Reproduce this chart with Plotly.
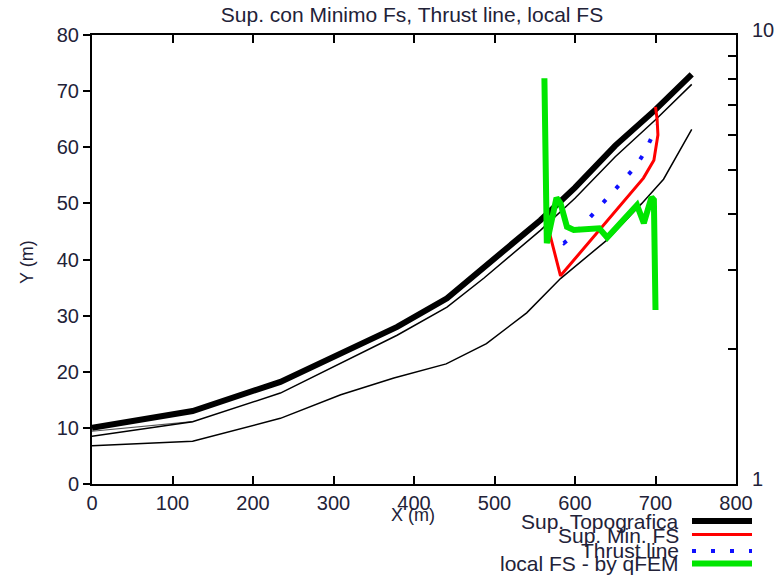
import plotly.graph_objects as go

# ---------------- data ----------------
topo_x = [0, 125, 234, 309, 379, 441, 487, 557, 600, 650, 700, 745]
topo_y = [10.0, 13.0, 18.2, 23.3, 28.0, 33.1, 38.5, 47.0, 52.8, 60.3, 66.7, 73.0]

layer1_x = [0, 125, 234, 309, 379, 441, 487, 557, 600, 650, 700, 745]
layer1_y = [8.5, 11.1, 16.2, 21.5, 26.5, 31.5, 36.7, 45.2, 50.9, 58.3, 64.9, 71.2]

layer2_x = [0, 125]
layer2_y = [9.4, 11.1]

bottom_x = [0, 125, 234, 309, 375, 440, 490, 540, 582, 640, 683, 710, 745]
bottom_y = [6.8, 7.6, 11.7, 15.9, 18.9, 21.4, 25.0, 30.5, 36.6, 43.5, 50.0, 54.3, 63.2]

minfs_x = [563, 582, 685, 698, 703, 702, 700]
minfs_y = [47.7, 37.1, 54.5, 57.7, 62.2, 65.0, 67.2]

thrust_x = [566, 586, 601, 617, 632, 646, 661, 675, 687, 696, 700]
thrust_y = [44.8, 42.9, 44.7, 47.3, 49.6, 51.9, 54.3, 56.5, 59.2, 62.0, 64.0]

localfs_x = [562, 565, 577, 582, 590, 598.5, 630, 640, 677, 685.5, 695, 698, 700]
localfs_fs = [8.01, 3.44, 4.34, 4.22, 3.74, 3.68, 3.71, 3.54, 4.18, 3.81, 4.35, 4.29, 2.44]

x_ticks = [0, 100, 200, 300, 400, 500, 600, 700, 800]
y_ticks = [0, 10, 20, 30, 40, 50, 60, 70, 80]
y2_ticks = [1, 2, 3, 4, 5, 6, 7, 8, 9, 10]
y2_ticktext = ["1", "", "", "", "", "", "", "", "", "10"]

title_text = "Sup. con Minimo Fs, Thrust line, local FS"
legend_labels = ["Sup. Topografica", "Sup. Min. FS", "Thrust line", "local FS - by qFEM"]

# ---------------- styles ----------------
FONT = "Liberation Sans"
TXT = "#222238"
DOT = "4px,15px"
GREEN = "#00e600"

fig = go.Figure()
fig.add_trace(go.Scatter(x=bottom_x, y=bottom_y, mode="lines",
                         line=dict(color="black", width=1.5), showlegend=False))
fig.add_trace(go.Scatter(x=layer2_x, y=layer2_y, mode="lines",
                         line=dict(color="#555", width=1.2), showlegend=False))
fig.add_trace(go.Scatter(x=layer1_x, y=layer1_y, mode="lines",
                         line=dict(color="black", width=1.5), showlegend=False))
fig.add_trace(go.Scatter(x=topo_x, y=topo_y, mode="lines",
                         line=dict(color="black", width=6), showlegend=False))
fig.add_trace(go.Scatter(x=minfs_x, y=minfs_y, mode="lines",
                         line=dict(color="#ff0000", width=3), showlegend=False))
fig.add_trace(go.Scatter(x=thrust_x, y=thrust_y, mode="lines",
                         line=dict(color="#1010ff", width=4, dash=DOT), showlegend=False))
fig.add_trace(go.Scatter(x=localfs_x, y=localfs_fs, mode="lines", yaxis="y2",
                         line=dict(color=GREEN, width=6), showlegend=False))

L, R, T, B = 92, 44, 35, 104
W, H = 780, 588
pw, ph = W - L - R, H - T - B

def px_x(p):
    return (p - L) / pw

def px_y(p):
    return (H - B - p) / ph

# manual legend (text left, sample right)
leg_text_y = [521, 535, 550, 563]
leg_line_y = [521, 534.5, 551, 563.5]
leg_styles = [dict(color="black", width=6),
              dict(color="#ff0000", width=3),
              dict(color="#1010ff", width=4, dash=DOT),
              dict(color=GREEN, width=6)]
annotations = []
shapes = []
for lab, ty, ly, st in zip(legend_labels, leg_text_y, leg_line_y, leg_styles):
    annotations.append(dict(text=lab, xref="paper", yref="paper", x=px_x(681), y=px_y(ty),
                            xanchor="right", yanchor="middle", showarrow=False,
                            font=dict(family=FONT, size=21, color=TXT)))
    shapes.append(dict(type="line", xref="paper", yref="paper",
                       x0=px_x(692), x1=px_x(752), y0=px_y(ly), y1=px_y(ly), line=st))

annotations.append(dict(text="X (m)", xref="paper", yref="paper", x=px_x(413), y=px_y(515),
                        xanchor="center", yanchor="middle", showarrow=False,
                        font=dict(family=FONT, size=18, color=TXT)))
annotations.append(dict(text="Y (m)", xref="paper", yref="paper", x=px_x(27), y=px_y(262),
                        xanchor="center", yanchor="middle", showarrow=False, textangle=-90,
                        font=dict(family=FONT, size=18, color=TXT)))

fig.update_layout(
    width=W, height=H,
    margin=dict(l=L, r=R, t=T, b=B, pad=0, autoexpand=False),
    paper_bgcolor="white", plot_bgcolor="white",
    title=dict(text=title_text, x=px_x(412), xref="paper", y=1 - 15 / H, yref="container",
               xanchor="center", yanchor="middle",
               font=dict(family=FONT, size=21, color=TXT)),
    font=dict(family=FONT, size=20, color=TXT),
    showlegend=False,
    xaxis=dict(range=[0, 800], tickvals=x_ticks, ticks="inside", ticklen=8, tickwidth=2,
               tickcolor="black", showline=True, linecolor="black", linewidth=2,
               mirror="ticks", showgrid=False, zeroline=False, automargin=False,
               tickfont=dict(family=FONT, size=20, color=TXT)),
    yaxis=dict(range=[0, 80], tickvals=y_ticks, ticks="outside", ticklen=7, tickwidth=2,
               tickcolor="black", showline=True, linecolor="black", linewidth=2,
               showgrid=False, zeroline=False, automargin=False,
               tickfont=dict(family=FONT, size=20, color=TXT)),
    yaxis2=dict(type="log", range=[0, 1], overlaying="y", side="right",
                tickvals=y2_ticks, ticktext=y2_ticktext, ticks="inside", ticklen=8,
                tickwidth=2, tickcolor="black", showline=True, linecolor="black",
                linewidth=2, showgrid=False, zeroline=False, automargin=False,
                ticklabelstandoff=10, ticklabelshift=-5,
                tickfont=dict(family=FONT, size=20, color=TXT)),
    annotations=annotations,
    shapes=shapes,
)

fig.write_html("out.html", config={"displayModeBar": False},
               post_script="document.body.style.margin='0px';document.body.style.overflow='hidden';")
